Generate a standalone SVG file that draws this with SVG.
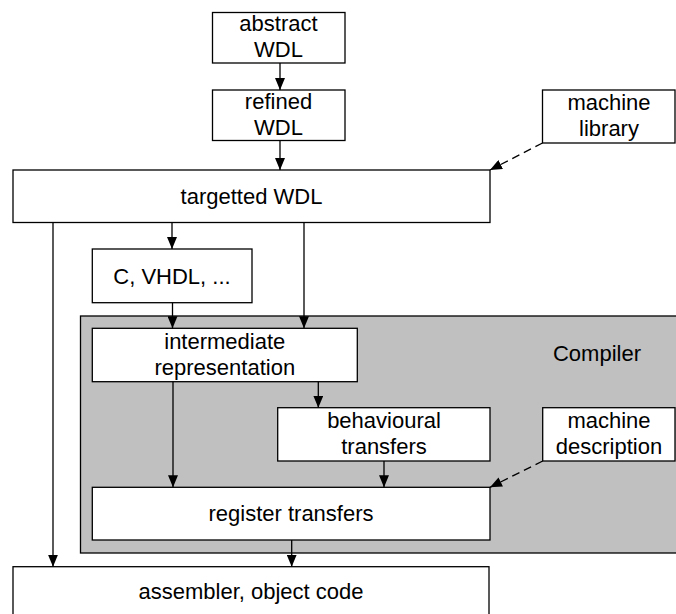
<svg xmlns="http://www.w3.org/2000/svg" width="676" height="614" viewBox="0 0 676 614">
<style>
.box{fill:#fff;stroke:#000;stroke-width:1.3}
.t{font-family:"Liberation Sans",Arial,sans-serif;font-size:22px;fill:#000;text-anchor:middle}
.c{fill:none;stroke:#000;stroke-width:1.3}
.d{stroke-dasharray:8 5}
</style>
<defs>
<marker id="ah" markerUnits="userSpaceOnUse" markerWidth="12" markerHeight="10" refX="12" refY="5" orient="auto">
<path d="M0,0 L12,5 L0,10 z" fill="#000"/>
</marker>
</defs>
<g id="compiler">
<rect x="80.5" y="316" width="620" height="237" fill="#c0c0c0" stroke="#000" stroke-width="1.3"/>
<text class="t" x="597" y="360.5">Compiler</text>
</g>
<g id="abstract">
<rect class="box" x="212.5" y="12.5" width="132.5" height="50.5"/>
<text class="t" x="278.5" y="31">abstract</text>
<text class="t" x="278.5" y="57">WDL</text>
</g>
<g id="refined">
<rect class="box" x="212.5" y="90" width="132.5" height="50.5"/>
<text class="t" x="278.5" y="109">refined</text>
<text class="t" x="278.5" y="135">WDL</text>
</g>
<g id="machlib">
<rect class="box" x="542.5" y="90" width="132.5" height="53"/>
<text class="t" x="609" y="110">machine</text>
<text class="t" x="609" y="135.5">library</text>
</g>
<g id="targetted">
<rect class="box" x="13" y="170" width="477" height="52.5"/>
<text class="t" x="251.5" y="203.5">targetted WDL</text>
</g>
<g id="cvhdl">
<rect class="box" x="92.3" y="249" width="159.7" height="53.7"/>
<text class="t" x="172" y="284">C, VHDL, ...</text>
</g>
<g id="ir">
<rect class="box" x="92.3" y="328.3" width="265" height="53.4"/>
<text class="t" x="224.8" y="349.3">intermediate</text>
<text class="t" x="224.8" y="375">representation</text>
</g>
<g id="behav">
<rect class="box" x="277.7" y="407.7" width="212.3" height="53.3"/>
<text class="t" x="384" y="428.3">behavioural</text>
<text class="t" x="384" y="454.3">transfers</text>
</g>
<g id="machdesc">
<rect class="box" x="542.7" y="407.7" width="132.3" height="53.3"/>
<text class="t" x="609" y="428.3">machine</text>
<text class="t" x="609" y="454.3">description</text>
</g>
<g id="regtrans">
<rect class="box" x="92.3" y="487.3" width="397.7" height="52.7"/>
<text class="t" x="291" y="521">register transfers</text>
</g>
<g id="asm">
<rect class="box" x="13" y="566.7" width="476" height="60"/>
<text class="t" x="251" y="599">assembler, object code</text>
</g>
<g id="connectors">
<line class="c" x1="280" y1="63" x2="280" y2="90" marker-end="url(#ah)"/>
<line class="c" x1="280" y1="140.5" x2="280" y2="170" marker-end="url(#ah)"/>
<line class="c d" x1="542.5" y1="143" x2="490" y2="170" marker-end="url(#ah)"/>
<line class="c" x1="172" y1="222.5" x2="172" y2="249" marker-end="url(#ah)"/>
<line class="c" x1="304" y1="222.5" x2="304" y2="328.3" marker-end="url(#ah)"/>
<line class="c" x1="172.5" y1="302.7" x2="172.5" y2="328.3" marker-end="url(#ah)"/>
<line class="c" x1="318.3" y1="381.7" x2="318.3" y2="407.7" marker-end="url(#ah)"/>
<line class="c" x1="173" y1="381.7" x2="173" y2="487.3" marker-end="url(#ah)"/>
<line class="c" x1="384" y1="461" x2="384" y2="487.3" marker-end="url(#ah)"/>
<line class="c d" x1="542.7" y1="461" x2="490" y2="487.3" marker-end="url(#ah)"/>
<line class="c" x1="291.7" y1="540" x2="291.7" y2="566.7" marker-end="url(#ah)"/>
<line class="c" x1="53" y1="222.5" x2="53" y2="566.7" marker-end="url(#ah)"/>
</g>
</svg>
